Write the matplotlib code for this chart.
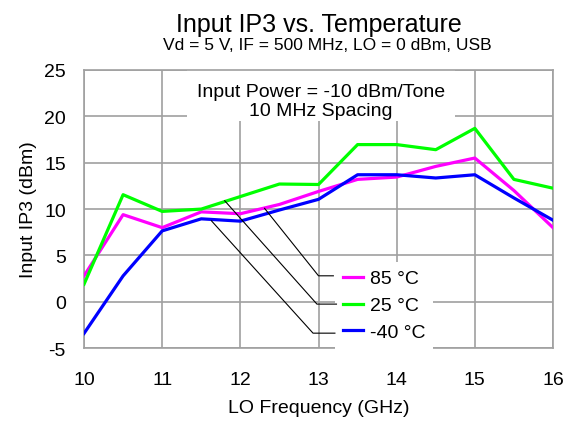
import numpy as np
import matplotlib
matplotlib.use('Agg')
import matplotlib.pyplot as plt
from matplotlib.patches import Rectangle

plt.rcParams['font.family'] = ['Liberation Sans', 'DejaVu Sans']
plt.rcParams['axes.unicode_minus'] = False

# LO frequency (GHz)
freq = [10, 10.5, 11, 11.5, 12, 12.5, 13, 13.5, 14, 14.5, 15, 15.5, 16]

# Input IP3 (dBm) per temperature
ip3_85 = [2.8, 9.4, 8.0, 9.7, 9.5, 10.5, 11.9, 13.2, 13.45, 14.6, 15.5, 12.0, 8.0]
ip3_25 = [1.9, 11.55, 9.75, 10.0, 11.35, 12.7, 12.65, 16.95, 16.95, 16.4, 18.7, 13.2, 12.25]
ip3_m40 = [-3.4, 2.8, 7.65, 8.95, 8.7, 9.9, 11.05, 13.7, 13.7, 13.35, 13.7, 11.2, 8.8]

labels = ['85 °C', '25 °C', '-40 °C']
colors = ['#FF00FF', '#00FF00', '#0000FF']

fig = plt.figure(figsize=(5.77, 4.27), dpi=100)
ax = fig.add_axes([0.1456, 0.182, 0.8128, 0.652])

lines = []
for ys, c, lab in zip([ip3_85, ip3_25, ip3_m40], colors, labels):
    ln, = ax.plot(freq, ys, color=c, lw=2.3, label=lab, zorder=3)
    lines.append(ln)

ax.set_xlim(10, 16)
ax.set_ylim(-5, 25)
ax.set_xticks(range(10, 17))
ax.set_yticks(range(-5, 26, 5))
ax.grid(True, color='#a0a0a0', lw=1.2, zorder=0)
ax.set_axisbelow(True)
for s in ax.spines.values():
    s.set_color('#a0a0a0')
    s.set_linewidth(1.2)
ax.tick_params(axis='x', length=0, labelsize=14, pad=16)
ax.tick_params(axis='y', length=0, labelsize=14, pad=13)

ax.set_xlabel('LO Frequency (GHz)', fontsize=14, labelpad=8)
ax.set_ylabel('Input IP3 (dBm)', fontsize=14, labelpad=5)

fig.text(0.553, 0.926, 'Input IP3 vs. Temperature', ha='center', va='baseline', fontsize=18)
fig.text(0.568, 0.882, 'Vd = 5 V, IF = 500 MHz, LO = 0 dBm, USB', ha='center', va='baseline', fontsize=12.5)

# condition box (white, hides grid)
ax.add_patch(Rectangle((11.32, 19.45), 3.42, 5.55, facecolor='white', edgecolor='none', zorder=1))
ax.text(13.03, 22.23, 'Input Power = -10 dBm/Tone', ha='center', va='baseline', fontsize=14, zorder=4)
ax.text(13.03, 20.15, '10 MHz Spacing', ha='center', va='baseline', fontsize=14, zorder=4)

# leader lines from curves to legend entries
leaders = [((12.31, 10.08), (13.0, 2.81), 13.19),
           ((11.80, 10.9), (12.98, -0.24), 13.23),
           ((11.63, 8.74), (12.93, -3.37), 13.21)]
for (x0, y0), (x1, y1), x2 in leaders:
    ax.plot([x0, x1, x2], [y0, y1, y1], color='black', lw=0.8, zorder=5)

leg = ax.legend(handles=lines, loc='upper left', bbox_to_anchor=(0.535, 0.31),
                borderaxespad=0, frameon=True, fancybox=False, fontsize=14,
                handlelength=1.03, handletextpad=0.36, labelspacing=0.48, borderpad=0.4)
leg.get_frame().set_edgecolor('none')
leg.get_frame().set_facecolor('white')
leg.get_frame().set_alpha(1)
leg.set_zorder(4)

fig.savefig('out.png', dpi=100)
